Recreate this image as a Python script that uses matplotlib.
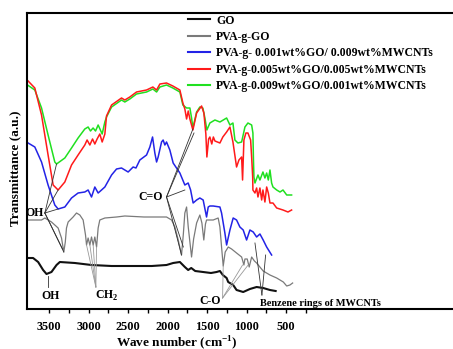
import matplotlib
matplotlib.use("Agg")
import matplotlib.pyplot as plt
from matplotlib.ticker import FixedLocator, FuncFormatter

plt.rcParams['font.family'] = ['Liberation Serif', 'DejaVu Serif']
plt.rcParams['font.weight'] = 'bold'

# ---------------- data (wavenumber cm-1, transmittance a.u.) ----------------
go_wn = [3766, 3703, 3639, 3576, 3533, 3470, 3406, 3364, 3174, 2963, 2709, 2414, 2200, 2013,
         1929, 1844, 1781, 1739, 1700, 1650, 1550, 1450, 1379, 1337, 1300, 1252, 1232, 1169,
         1126, 1042, 957, 872, 789, 703, 631]
go_t = [51, 51, 47, 39, 35, 37, 44, 47, 46, 44, 43, 43, 43, 44,
        46, 47, 42, 39, 41, 38, 37, 36, 37, 38, 34, 31, 27, 24,
        19, 17, 20, 22, 21, 19, 18]

pgo_wn = [3766, 3596, 3554, 3470, 3386, 3343, 3314, 3295, 3280, 3259, 3196, 3153, 3111, 3069,
          3039, 3026, 3006, 2984, 2963, 2942, 2921, 2899, 2879, 2858, 2794, 2646, 2541, 2300,
          2013, 1949, 1907, 1865, 1823, 1800, 1781, 1759, 1738, 1696, 1670, 1632, 1591, 1565,
          1541, 1520, 1506, 1422, 1359, 1337, 1316, 1295, 1270, 1231, 1189, 1126, 1062, 1033,
          1020, 991, 966, 935, 900, 872, 789, 703, 618, 534, 491, 450, 416]
pgo_t = [89, 89, 91, 87, 81, 71, 57, 67, 81, 87, 92, 96, 94, 89,
         74, 64, 71, 64, 72, 64, 72, 62, 81, 89, 91, 92, 93, 92,
         92, 89, 82, 69, 54, 75, 96, 102, 82, 52, 70, 86, 94, 86,
         69, 85, 89, 89, 91, 82, 62, 43, 57, 62, 60, 56, 52, 44,
         50, 50, 42, 52, 48, 46, 38, 34, 31, 27, 23, 24, 26]

blue_wn = [3766, 3681, 3596, 3513, 3428, 3386, 3301, 3216, 3133, 3048, 3006, 2963, 2921, 2879,
           2836, 2794, 2709, 2646, 2583, 2499, 2436, 2400, 2351, 2266, 2224, 2190, 2161, 2139,
           2119, 2076, 2056, 2034, 2013, 1971, 1929, 1844, 1781, 1739, 1708, 1676, 1632, 1591,
           1549, 1506, 1485, 1464, 1422, 1337, 1316, 1274, 1252, 1210, 1169, 1126, 1084, 1042,
           999, 957, 915, 872, 830, 789, 745, 682]
blue_t = [166, 162, 147, 124, 104, 100, 102, 111, 116, 117, 119, 112, 122, 116,
          119, 122, 134, 140, 141, 137, 142, 141, 149, 154, 162, 172, 156, 147,
          152, 167, 169, 164, 167, 159, 146, 136, 124, 126, 119, 106, 109, 111,
          109, 92, 102, 103, 103, 102, 96, 76, 64, 79, 91, 89, 82, 79,
          69, 79, 77, 72, 75, 69, 62, 54]

red_wn = [3766, 3681, 3596, 3513, 3449, 3386, 3301, 3216, 3133, 3048, 3019, 2984, 2950, 2921,
          2892, 2858, 2828, 2794, 2773, 2709, 2583, 2541, 2478, 2393, 2266, 2186, 2139, 2097,
          2013, 1933, 1844, 1806, 1781, 1759, 1738, 1717, 1679, 1632, 1569, 1540, 1515, 1502,
          1480, 1464, 1440, 1420, 1400, 1337, 1300, 1252, 1210, 1172, 1126, 1096, 1062, 1050,
          1033, 1008, 982, 948, 935, 922, 919, 893, 872, 855, 830, 808, 792, 767, 745, 724,
          703, 665, 618, 538, 475, 429]
red_t = [228, 221, 194, 154, 124, 119, 127, 144, 154, 164, 169, 164, 170, 165,
         170, 175, 167, 175, 193, 204, 211, 209, 212, 217, 219, 222, 219, 225,
         226, 223, 219, 206, 200, 190, 198, 190, 179, 196, 203, 196, 175, 152,
         170, 172, 165, 172, 168, 166, 172, 177, 182, 167, 142, 149, 152, 129,
         169, 176, 176, 169, 152, 132, 119, 116, 121, 112, 121, 109, 119, 107, 122, 116,
         106, 106, 101, 99, 97, 99]

green_wn = [3774, 3681, 3596, 3513, 3428, 3406, 3301, 3216, 3133, 3048, 3006, 2976, 2943, 2912,
            2879, 2828, 2794, 2773, 2709, 2583, 2541, 2478, 2393, 2266, 2186, 2139, 2097, 2013,
            1933, 1844, 1806, 1759, 1717, 1696, 1679, 1632, 1591, 1553, 1527, 1502, 1464, 1400,
            1337, 1252, 1210, 1172, 1147, 1109, 1062, 1020, 982, 935, 919, 912, 906, 893,
            855, 830, 792, 767, 745, 724, 703, 682, 665, 618, 576, 538, 491, 429]
green_t = [224, 219, 201, 174, 147, 145, 151, 161, 171, 180, 182, 178, 181, 178,
           184, 175, 187, 192, 202, 209, 207, 210, 215, 217, 220, 217, 222, 224,
           221, 217, 204, 201, 201, 191, 181, 197, 202, 201, 191, 179, 186, 189,
           187, 191, 184, 186, 169, 166, 167, 182, 186, 184, 176, 149, 132, 126,
           134, 129, 137, 131, 136, 129, 139, 126, 122, 119, 117, 119, 114, 114]

labels = ["GO", "PVA-g-GO", "PVA-g- 0.001wt%GO/ 0.009wt%MWCNTs",
          "PVA-g-0.005wt%GO/0.005wt%MWCNTs", "PVA-g-0.009wt%GO/0.001wt%MWCNTs"]
tick_vals = [3500, 3000, 2500, 2000, 1500, 1000, 500]

# ---------------- figure ----------------
W, H = 453, 349
fig = plt.figure(figsize=(W / 100, H / 100), dpi=100)
ax = fig.add_axes([27 / W, 1 - 309 / H, 1 - 27 / W, 296 / H])
ax.set_xlim(3780, -1615)
ax.set_ylim(0, 296)

l_go, = ax.plot(go_wn, go_t, color='#111111', lw=1.5, label=labels[0])
l_pgo, = ax.plot(pgo_wn, pgo_t, color='#7a7a7a', lw=0.9, label=labels[1])
l_b, = ax.plot(blue_wn, blue_t, color='#2323e6', lw=1.1, label=labels[2])
l_g, = ax.plot(green_wn, green_t, color='#20e020', lw=1.1, label=labels[4])
l_r, = ax.plot(red_wn, red_t, color='#ff1a1a', lw=1.1, label=labels[3])

leg = ax.legend([l_go, l_pgo, l_b, l_r, l_g], labels, loc='upper left',
                bbox_to_anchor=(188 / W, 1 - 14.5 / H), bbox_transform=fig.transFigure,
                frameon=False, borderpad=0, borderaxespad=0, handlelength=1.9,
                handletextpad=0.5, labelspacing=0.38, prop={'size': 8.5, 'weight': 'bold'})
for lh in leg.get_lines():
    lh.set_linewidth(1.5)

# spines / ticks
for s in ['left', 'top', 'bottom']:
    ax.spines[s].set_linewidth(1.5)
ax.spines['right'].set_visible(False)
ax.set_yticks([])
ax.xaxis.set_major_locator(FixedLocator([3500, 3250, 3000, 2750, 2500, 2250, 2000, 1750, 1500,
                                         1250, 1000, 750, 500, 250]))
ax.xaxis.set_major_formatter(FuncFormatter(lambda v, p: f"{int(v)}" if int(v) in tick_vals else ""))
ax.tick_params(axis='x', direction='out', length=3, width=1, pad=6, labelsize=8.8)
for t in ax.get_xticklabels():
    t.set_fontweight('bold')

fig.text(176.7 / W, 1 - 343 / H, "Wave number (cm$^{\\mathregular{-1}}$)", ha='center', va='center',
         fontsize=9.5, fontweight='bold')
fig.text(15 / W, 1 - 168 / H, "Transmittance (a.u.)", ha='center', va='center', rotation=90,
         fontsize=9.5, fontweight='bold')

# ---------------- annotations ----------------
ac = '#333333'
lc = '#999999'
def lines(x0, y0, pts, color=ac, lw=0.6):
    for (x1, y1) in pts:
        ax.plot([x0, x1], [y0, y1], color=color, lw=lw)

ax.text(3682, 96, "OH", ha='center', va='center', fontsize=8.5, fontweight='bold')
lines(3554, 96, [(3406, 145), (3386, 119), (3386, 100), (3314, 57), (3330, 60)])

ax.text(2215, 112, "C=O", ha='center', va='center', fontsize=8.5, fontweight='bold')
lines(2013, 112, [(1679, 180), (1665, 176), (1781, 119), (1823, 54), (1800, 62)])

ax.text(2772, 13, "CH$_{\\mathregular{2}}$", ha='center', va='center', fontsize=8.5, fontweight='bold')
lines(2908, 22, [(3026, 64), (2984, 64), (2942, 64), (2899, 62)], color=lc)

ax.text(3482, 13, "OH", ha='center', va='center', fontsize=8.5, fontweight='bold')
lines(3520, 33, [(3520, 22)])

ax.text(1455, 8, "C-O", ha='center', va='center', fontsize=8.5, fontweight='bold')
lines(1303, 11, [(1295, 43), (1050, 44), (979, 44)], color=lc)

ax.text(830, 6, "Benzene rings of MWCNTs", ha='left', va='center', fontsize=7.5, fontweight='bold')
lines(805, 14, [(893, 66), (758, 54)])

fig.savefig("out.png", dpi=100)
